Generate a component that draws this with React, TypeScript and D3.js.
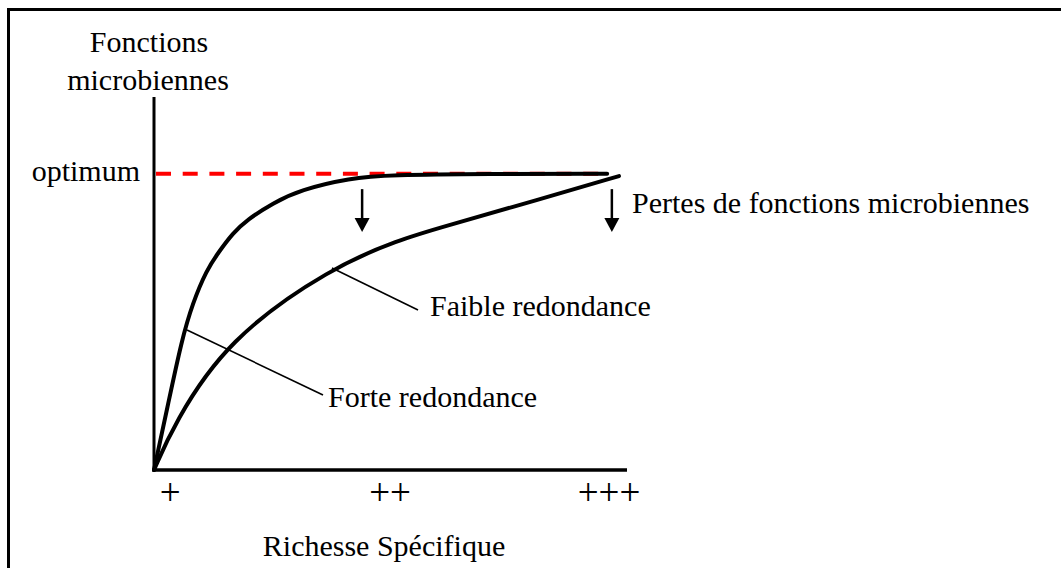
import React from "react";
import * as d3 from "d3";

// Data (abstract units: x = species richness 0..100, y = microbial function 0..100)
const strongRedundancy: [number, number][] = [
  [0, 0], [3.0, 17.8], [5.86, 34.85], [8.18, 44.77], [11.14, 53.62], [13.53, 58.18],
  [16.7, 63.54], [19.6, 67.02], [25.16, 71.58], [30.87, 75.07], [41.44, 78.28],
  [49.89, 79.09], [70, 79.4], [95.8, 79.4],
];
const weakRedundancy: [number, number][] = [
  [0, 0], [4.2, 12.3], [15.4, 34.9], [37.6, 54.4], [52.0, 61.8], [60.5, 65.0],
  [81.6, 72.6], [98.3, 78.8],
];
const optimumLevel = 79.4;
const optimumEnd = 95.8;
const richnessTicks = ["+", "++", "+++"];
const richnessTickPos = [3.4, 49.9, 96.2];
const lossArrowsX = [44.0, 96.8];
const lossArrowY: [number, number] = [75.3, 63.8];

const W = 1061;
const H = 568;
const FONT = "'Liberation Serif', 'Times New Roman', serif";

export default function App() {
  const x = d3.scaleLinear().domain([0, 100]).range([154, 627]);
  const y = d3.scaleLinear().domain([0, 100]).range([470, 97]);
  const line = d3
    .line<[number, number]>()
    .x((d) => x(d[0]))
    .y((d) => y(d[1]))
    .curve(d3.curveBasis);

  return (
    <svg
      width={W}
      height={H}
      style={{ position: "absolute", left: 0, top: 0, background: "#fff" }}
      fontFamily={FONT}
    >
      {/* frame */}
      <line x1={8} y1={9.5} x2={W} y2={9.5} stroke="#000" strokeWidth={3} />
      <line x1={8.5} y1={8} x2={8.5} y2={H} stroke="#000" strokeWidth={3} />

      {/* axes */}
      <line x1={x(0)} y1={y(0)} x2={x(0)} y2={y(100)} stroke="#000" strokeWidth={3} />
      <line x1={x(0) - 1.5} y1={y(0)} x2={x(100)} y2={y(0)} stroke="#000" strokeWidth={3.5} />

      {/* optimum dashed line */}
      <line
        x1={x(0) + 2}
        y1={y(optimumLevel)}
        x2={x(optimumEnd)}
        y2={y(optimumLevel)}
        stroke="#ff0000"
        strokeWidth={4}
        strokeDasharray="15 11.7"
      />

      {/* curves */}
      <path d={line(strongRedundancy) || ""} fill="none" stroke="#000" strokeWidth={4} strokeLinecap="round" />
      <path d={line(weakRedundancy) || ""} fill="none" stroke="#000" strokeWidth={4} strokeLinecap="round" />

      {/* loss arrows */}
      {lossArrowsX.map((ax, i) => (
        <g key={i}>
          <line x1={x(ax)} y1={y(lossArrowY[0])} x2={x(ax)} y2={y(lossArrowY[1]) - 12} stroke="#000" strokeWidth={2.5} />
          <path
            d={`M${x(ax) - 7.5},${y(lossArrowY[1]) - 14} L${x(ax) + 7.5},${y(lossArrowY[1]) - 14} L${x(ax)},${y(lossArrowY[1])} Z`}
            fill="#000"
          />
        </g>
      ))}

      {/* leader lines */}
      <line x1={332} y1={268} x2={418} y2={310} stroke="#000" strokeWidth={1.6} />
      <line x1={187} y1={330} x2={323} y2={395} stroke="#000" strokeWidth={1.6} />

      {/* texts */}
      <g fontSize={30} fill="#000">
        <text x={149} y={52} textAnchor="middle">Fonctions</text>
        <text x={148} y={90} textAnchor="middle">microbiennes</text>
        <text x={140} y={181} textAnchor="end">optimum</text>
        <text x={632} y={213}>Pertes de fonctions microbiennes</text>
        <text x={430} y={316}>Faible redondance</text>
        <text x={328} y={407}>Forte redondance</text>
        {richnessTicks.map((t, i) => (
          <text key={t} x={x(richnessTickPos[i])} y={505} textAnchor="middle" fontSize={37}>{t}</text>
        ))}
        <text x={384} y={556} textAnchor="middle">Richesse Spécifique</text>
      </g>
    </svg>
  );
}
